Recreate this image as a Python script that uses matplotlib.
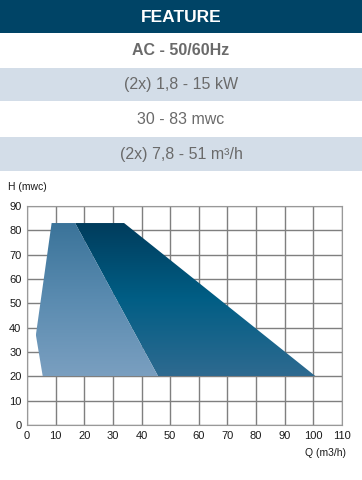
import matplotlib
matplotlib.use("Agg")
import matplotlib.pyplot as plt
import numpy as np
from matplotlib.colors import LinearSegmentedColormap
from matplotlib.patches import Polygon, Rectangle
from matplotlib import font_manager

fams = [f.name for f in font_manager.fontManager.ttflist]
FONT = "Liberation Sans Narrow" if "Liberation Sans Narrow" in fams else "Liberation Sans"
plt.rcParams['font.family'] = [FONT, 'DejaVu Sans']

header_title = "FEATURE"
feature_rows = ["AC - 50/60Hz", "(2x) 1,8 - 15 kW", "30 - 83 mwc", "(2x) 7,8 - 51 m³/h"]

# Operating areas (Q m3/h, H mwc)
light_q = [5.5, 3.1, 8.6, 16.8, 45.8]
light_h = [20, 37, 83, 83, 20]
dark_q = [16.8, 33.9, 100.8, 45.8]
dark_h = [83, 83, 20, 20]

x_ticks = [0, 10, 20, 30, 40, 50, 60, 70, 80, 90, 100, 110]
y_ticks = [0, 10, 20, 30, 40, 50, 60, 70, 80, 90]

W, H = 362, 480
fig = plt.figure(figsize=(W / 100, H / 100), dpi=100)

# header table
hax = fig.add_axes([0, 0, 1, 1])
hax.set_xlim(0, W)
hax.set_ylim(H, 0)
hax.axis('off')
hax.add_patch(Rectangle((0, 0), W, 33, color='#004466', lw=0))
hax.text(W / 2, 17, header_title, color='white', fontsize=12.5, fontweight='bold',
         ha='center', va='center')
row_tops = [33, 67.5, 102, 137]
row_h = 34.5
for i, (t, txt) in enumerate(zip(row_tops, feature_rows)):
    bg = '#ffffff' if i % 2 == 0 else '#d3dde8'
    hax.add_patch(Rectangle((0, t), W, row_h - 1, color=bg, lw=0))
    hax.text(W / 2, t + row_h / 2, txt, color='#6a6a6a', fontsize=11.5,
             fontweight='bold' if i == 0 else 'normal', ha='center', va='center')

ax = fig.add_axes([27 / W, 1 - 425 / H, 315 / W, 219 / H])
ax.set_xlim(0, 110)
ax.set_ylim(0, 90)
ax.set_xticks(x_ticks)
ax.set_yticks(y_ticks)
ax.grid(True, color='#7f7f7f', lw=1.0)
ax.set_axisbelow(True)
for s in ax.spines.values():
    s.set_color('#999999')
ax.tick_params(length=0, labelsize=8, colors='#1a1a1a', pad=4)

def grad_poly(qs, hs, c_top, c_mid, c_bot):
    poly = Polygon(np.column_stack([qs, hs]), closed=True, facecolor='none',
                   edgecolor='none', zorder=3)
    ax.add_patch(poly)
    cmap = LinearSegmentedColormap.from_list('g', [c_bot, c_mid, c_top])
    grad = np.linspace(0, 1, 256).reshape(-1, 1)
    im = ax.imshow(grad, cmap=cmap, origin='lower', aspect='auto',
                   extent=[min(qs), max(qs), min(hs), max(hs)], zorder=3,
                   interpolation='bilinear')
    im.set_clip_path(poly)

grad_poly(dark_q, dark_h, '#003c5c', '#015e85', '#2e6a90')
grad_poly(light_q, light_h, '#3a7399', '#5a8bb0', '#7a9fc0')
ax.set_xlim(0, 110)
ax.set_ylim(0, 90)

fig.text(8 / W, 1 - 187 / H, "H (mwc)", fontsize=7.5, color='#1a1a1a', ha='left', va='center')
fig.text(346 / W, 1 - 453 / H, "Q (m3/h)", fontsize=7.5, color='#1a1a1a', ha='right', va='center')

fig.savefig("out.png", dpi=100)
